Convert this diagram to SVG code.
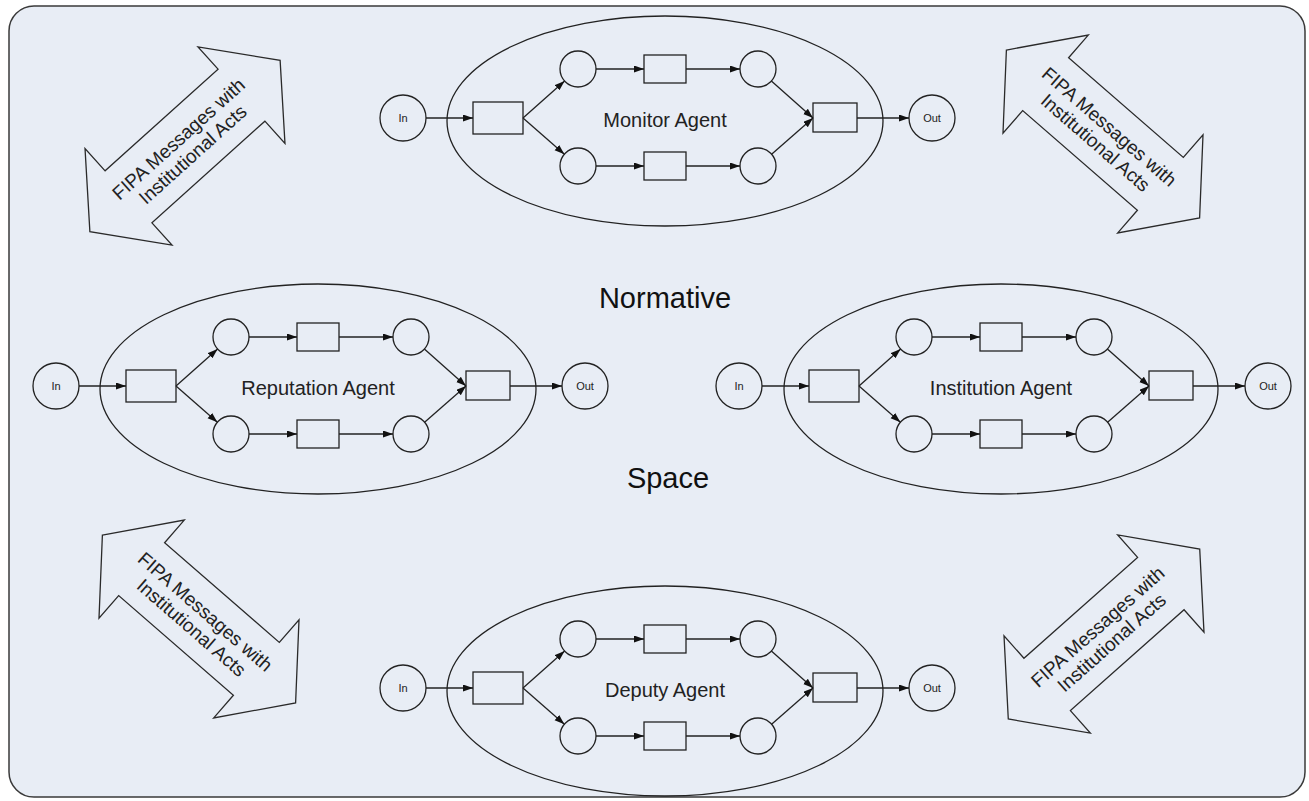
<svg xmlns="http://www.w3.org/2000/svg" xmlns:xlink="http://www.w3.org/1999/xlink" width="1309" height="801" viewBox="0 0 1309 801">
<style>
.bg{fill:#e8edf5;stroke:#3a3a3a;stroke-width:1.5}
.shape{fill:none;stroke:#222;stroke-width:1.3}
.blk{fill:#e8edf5;stroke:#2a2a2a;stroke-width:1.3}
.conn{fill:none;stroke:#222;stroke-width:1.3;marker-end:url(#ah)}
.lbl{font-family:"Liberation Sans",Arial,sans-serif;font-size:20px;fill:#222;text-anchor:middle}
.sm{font-family:"Liberation Sans",Arial,sans-serif;font-size:11px;fill:#222;text-anchor:middle}
.big{font-family:"Liberation Sans",Arial,sans-serif;font-size:29px;fill:#111;text-anchor:middle}
.arw{font-family:"Liberation Sans",Arial,sans-serif;font-size:19px;fill:#222;text-anchor:middle}
</style>
<defs>
<marker id="ah" markerUnits="userSpaceOnUse" markerWidth="11" markerHeight="8" refX="10" refY="3.5" orient="auto">
<path d="M0,0 L10,3.5 L0,7 z" fill="#111"/>
</marker>
<path id="dbl" d="M-128,0 L-76,-65 L-76,-35 L76,-35 L76,-65 L128,0 L76,65 L76,35 L-76,35 L-76,65 Z" class="blk"/>
</defs>

<rect x="9" y="6" width="1296" height="791" rx="25" ry="25" class="bg"/>

<g id="title-normative"><text x="665" y="308" class="big">Normative</text></g>
<g id="title-space"><text x="668" y="488" class="big">Space</text></g>

<g id="arrow-tl" transform="translate(185,146) rotate(-42)">
<use xlink:href="#dbl"/>
<text x="0" y="-3" class="arw">FIPA Messages with</text>
<text x="0" y="18" class="arw">Institutional Acts</text>
</g>
<g id="arrow-tr" transform="translate(1103,134) rotate(41)">
<use xlink:href="#dbl"/>
<text x="0" y="-3" class="arw">FIPA Messages with</text>
<text x="0" y="18" class="arw">Institutional Acts</text>
</g>
<g id="arrow-bl" transform="translate(199,619) rotate(41)">
<use xlink:href="#dbl"/>
<text x="0" y="-3" class="arw">FIPA Messages with</text>
<text x="0" y="18" class="arw">Institutional Acts</text>
</g>
<g id="arrow-br" transform="translate(1104,634) rotate(-41.6)">
<use xlink:href="#dbl"/>
<text x="0" y="-3" class="arw">FIPA Messages with</text>
<text x="0" y="18" class="arw">Institutional Acts</text>
</g>

<!-- Monitor Agent -->
<g id="monitor" transform="translate(665,118)">
<g id="monitor-agent"><ellipse cx="0" cy="3" rx="218" ry="105" class="shape"/><text x="0" y="9" class="lbl">Monitor Agent</text></g>
<g id="monitor-in"><circle cx="-262" cy="0" r="23" class="shape"/><text x="-262" y="4" class="sm">In</text></g>
<g id="monitor-t1"><rect x="-192" y="-16" width="50" height="32" class="shape"/></g>
<g id="monitor-p1"><circle cx="-87" cy="-49" r="18" class="shape"/></g>
<g id="monitor-p2"><circle cx="-87" cy="48" r="18" class="shape"/></g>
<g id="monitor-t2"><rect x="-21" y="-63" width="42" height="28" class="shape"/></g>
<g id="monitor-t3"><rect x="-21" y="34" width="42" height="28" class="shape"/></g>
<g id="monitor-p3"><circle cx="93" cy="-49" r="18" class="shape"/></g>
<g id="monitor-p4"><circle cx="93" cy="48" r="18" class="shape"/></g>
<g id="monitor-t4"><rect x="148" y="-15" width="44" height="29" class="shape"/></g>
<g id="monitor-out"><circle cx="267" cy="0" r="23" class="shape"/><text x="267" y="4" class="sm">Out</text></g>
</g>

<!-- Reputation Agent -->
<g id="reputation" transform="translate(318,386)">
<g id="reputation-agent"><ellipse cx="0" cy="3" rx="218" ry="105" class="shape"/><text x="0" y="9" class="lbl">Reputation Agent</text></g>
<g id="reputation-in"><circle cx="-262" cy="0" r="23" class="shape"/><text x="-262" y="4" class="sm">In</text></g>
<g id="reputation-t1"><rect x="-192" y="-16" width="50" height="32" class="shape"/></g>
<g id="reputation-p1"><circle cx="-87" cy="-49" r="18" class="shape"/></g>
<g id="reputation-p2"><circle cx="-87" cy="48" r="18" class="shape"/></g>
<g id="reputation-t2"><rect x="-21" y="-63" width="42" height="28" class="shape"/></g>
<g id="reputation-t3"><rect x="-21" y="34" width="42" height="28" class="shape"/></g>
<g id="reputation-p3"><circle cx="93" cy="-49" r="18" class="shape"/></g>
<g id="reputation-p4"><circle cx="93" cy="48" r="18" class="shape"/></g>
<g id="reputation-t4"><rect x="148" y="-15" width="44" height="29" class="shape"/></g>
<g id="reputation-out"><circle cx="267" cy="0" r="23" class="shape"/><text x="267" y="4" class="sm">Out</text></g>
</g>

<!-- Institution Agent -->
<g id="institution" transform="translate(1001,386)">
<g id="institution-agent"><ellipse cx="0" cy="3" rx="217" ry="105" class="shape"/><text x="0" y="9" class="lbl">Institution Agent</text></g>
<g id="institution-in"><circle cx="-262" cy="0" r="23" class="shape"/><text x="-262" y="4" class="sm">In</text></g>
<g id="institution-t1"><rect x="-192" y="-16" width="50" height="32" class="shape"/></g>
<g id="institution-p1"><circle cx="-87" cy="-49" r="18" class="shape"/></g>
<g id="institution-p2"><circle cx="-87" cy="48" r="18" class="shape"/></g>
<g id="institution-t2"><rect x="-21" y="-63" width="42" height="28" class="shape"/></g>
<g id="institution-t3"><rect x="-21" y="34" width="42" height="28" class="shape"/></g>
<g id="institution-p3"><circle cx="93" cy="-49" r="18" class="shape"/></g>
<g id="institution-p4"><circle cx="93" cy="48" r="18" class="shape"/></g>
<g id="institution-t4"><rect x="148" y="-15" width="44" height="29" class="shape"/></g>
<g id="institution-out"><circle cx="267" cy="0" r="23" class="shape"/><text x="267" y="4" class="sm">Out</text></g>
</g>

<!-- Deputy Agent -->
<g id="deputy" transform="translate(665,688)">
<g id="deputy-agent"><ellipse cx="0" cy="3" rx="218" ry="105" class="shape"/><text x="0" y="9" class="lbl">Deputy Agent</text></g>
<g id="deputy-in"><circle cx="-262" cy="0" r="23" class="shape"/><text x="-262" y="4" class="sm">In</text></g>
<g id="deputy-t1"><rect x="-192" y="-16" width="50" height="32" class="shape"/></g>
<g id="deputy-p1"><circle cx="-87" cy="-49" r="18" class="shape"/></g>
<g id="deputy-p2"><circle cx="-87" cy="48" r="18" class="shape"/></g>
<g id="deputy-t2"><rect x="-21" y="-63" width="42" height="28" class="shape"/></g>
<g id="deputy-t3"><rect x="-21" y="34" width="42" height="28" class="shape"/></g>
<g id="deputy-p3"><circle cx="93" cy="-49" r="18" class="shape"/></g>
<g id="deputy-p4"><circle cx="93" cy="48" r="18" class="shape"/></g>
<g id="deputy-t4"><rect x="148" y="-15" width="44" height="29" class="shape"/></g>
<g id="deputy-out"><circle cx="267" cy="0" r="23" class="shape"/><text x="267" y="4" class="sm">Out</text></g>
</g>

<g id="connectors">
<g transform="translate(665,118)">
<path class="conn" d="M-239,0 L-192,0"/><path class="conn" d="M-142,0 L-100.4,-37"/><path class="conn" d="M-142,0 L-100.6,36.2"/>
<path class="conn" d="M-69,-49 L-21,-49"/><path class="conn" d="M21,-49 L75,-49"/><path class="conn" d="M106.4,-37 L148,0"/>
<path class="conn" d="M-69,48 L-21,48"/><path class="conn" d="M21,48 L75,48"/><path class="conn" d="M106.6,36.2 L148,0"/>
<path class="conn" d="M192,0 L244,0"/>
</g>
<g transform="translate(318,386)">
<path class="conn" d="M-239,0 L-192,0"/><path class="conn" d="M-142,0 L-100.4,-37"/><path class="conn" d="M-142,0 L-100.6,36.2"/>
<path class="conn" d="M-69,-49 L-21,-49"/><path class="conn" d="M21,-49 L75,-49"/><path class="conn" d="M106.4,-37 L148,0"/>
<path class="conn" d="M-69,48 L-21,48"/><path class="conn" d="M21,48 L75,48"/><path class="conn" d="M106.6,36.2 L148,0"/>
<path class="conn" d="M192,0 L244,0"/>
</g>
<g transform="translate(1001,386)">
<path class="conn" d="M-239,0 L-192,0"/><path class="conn" d="M-142,0 L-100.4,-37"/><path class="conn" d="M-142,0 L-100.6,36.2"/>
<path class="conn" d="M-69,-49 L-21,-49"/><path class="conn" d="M21,-49 L75,-49"/><path class="conn" d="M106.4,-37 L148,0"/>
<path class="conn" d="M-69,48 L-21,48"/><path class="conn" d="M21,48 L75,48"/><path class="conn" d="M106.6,36.2 L148,0"/>
<path class="conn" d="M192,0 L244,0"/>
</g>
<g transform="translate(665,688)">
<path class="conn" d="M-239,0 L-192,0"/><path class="conn" d="M-142,0 L-100.4,-37"/><path class="conn" d="M-142,0 L-100.6,36.2"/>
<path class="conn" d="M-69,-49 L-21,-49"/><path class="conn" d="M21,-49 L75,-49"/><path class="conn" d="M106.4,-37 L148,0"/>
<path class="conn" d="M-69,48 L-21,48"/><path class="conn" d="M21,48 L75,48"/><path class="conn" d="M106.6,36.2 L148,0"/>
<path class="conn" d="M192,0 L244,0"/>
</g>
</g>
</svg>
